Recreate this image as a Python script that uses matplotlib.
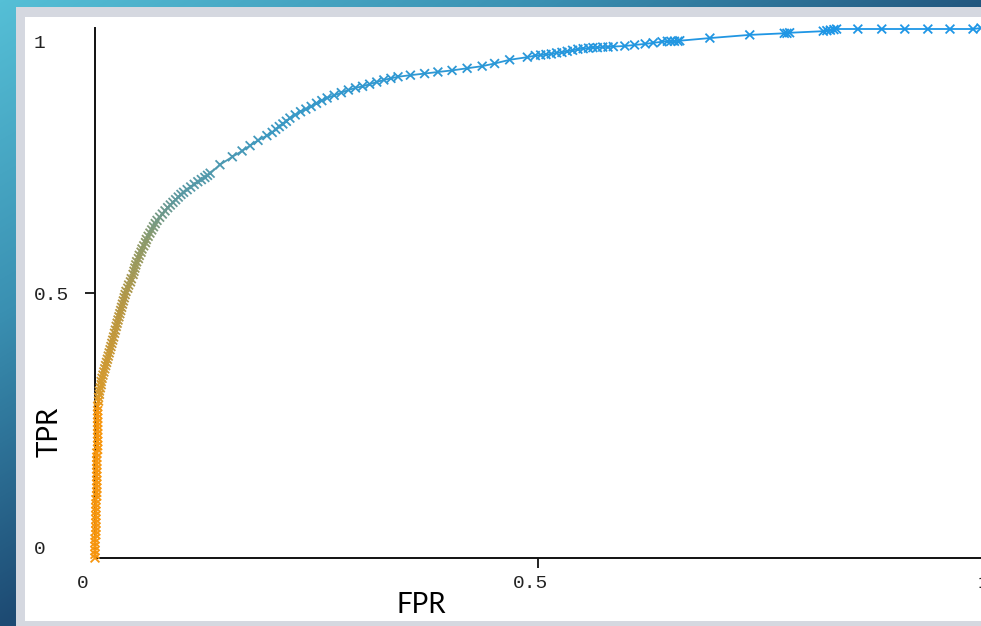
import numpy as np
import matplotlib
matplotlib.use("Agg")
import matplotlib.pyplot as plt
from matplotlib.colors import LinearSegmentedColormap
from matplotlib.collections import LineCollection
from matplotlib.patches import Rectangle

# ---------------- data ----------------
fpr = [
    # near-vertical start
    0.000, 0.000, 0.000, 0.000, 0.000, 0.000, 0.001, 0.001, 0.001, 0.001,
    0.001, 0.001, 0.001, 0.001, 0.001, 0.001, 0.002, 0.002, 0.002, 0.002,
    0.002, 0.002, 0.002, 0.002, 0.002, 0.002, 0.002, 0.002, 0.003, 0.003,
    0.003, 0.003, 0.003, 0.003, 0.003, 0.003, 0.003, 0.003, 0.003, 0.003,
    # steep rise
    0.004, 0.004, 0.005, 0.005, 0.006, 0.007, 0.007, 0.008, 0.009, 0.010,
    0.011, 0.012, 0.013, 0.014, 0.015, 0.016, 0.017, 0.018, 0.019, 0.020,
    0.021, 0.022, 0.023, 0.024, 0.025, 0.026, 0.027, 0.028, 0.029, 0.030,
    0.031, 0.032, 0.033, 0.034, 0.035, 0.037, 0.038, 0.040, 0.041,
    0.043, 0.044, 0.045, 0.046, 0.047, 0.049, 0.050, 0.052, 0.053, 0.055,
    0.057, 0.058, 0.060, 0.062, 0.064, 0.066, 0.068, 0.070, 0.073, 0.076,
    0.079, 0.082, 0.085, 0.088, 0.091, 0.094, 0.097, 0.100, 0.104, 0.108,
    0.112, 0.116, 0.120, 0.124, 0.127, 0.130,
    # knee
    0.141, 0.155, 0.166, 0.175, 0.184, 0.194,
    0.200, 0.204, 0.208, 0.212, 0.216, 0.220, 0.226, 0.232, 0.238, 0.244,
    0.250, 0.256, 0.262, 0.270, 0.278, 0.286, 0.294, 0.302, 0.310, 0.318,
    0.326, 0.334, 0.342,
    0.356, 0.372, 0.387, 0.403, 0.420, 0.437, 0.451, 0.468, 0.488,
    0.497, 0.503, 0.509, 0.515, 0.521, 0.527, 0.533, 0.539, 0.545, 0.551,
    0.557, 0.562, 0.567, 0.573, 0.579, 0.585,
    0.598, 0.609, 0.621, 0.630, 0.640,
    0.646, 0.650, 0.654, 0.658, 0.660,
    0.694, 0.739, 0.778, 0.781, 0.784,
    0.822, 0.826, 0.830, 0.834, 0.837,
    0.861, 0.888, 0.914, 0.940, 0.965, 0.991, 1.000,
]
tpr = [
    0.000, 0.007, 0.014, 0.022, 0.029, 0.036, 0.044, 0.051, 0.058, 0.066,
    0.073, 0.080, 0.088, 0.095, 0.102, 0.110, 0.117, 0.124, 0.132, 0.139,
    0.146, 0.154, 0.161, 0.168, 0.176, 0.183, 0.190, 0.198, 0.205, 0.212,
    0.220, 0.227, 0.234, 0.242, 0.249, 0.256, 0.264, 0.271, 0.278, 0.286,
    0.296, 0.303, 0.309, 0.315, 0.321, 0.327, 0.333, 0.339, 0.345, 0.351,
    0.357, 0.363, 0.369, 0.375, 0.381, 0.387, 0.393, 0.399, 0.405, 0.411,
    0.417, 0.424, 0.430, 0.437, 0.443, 0.449, 0.455, 0.461, 0.467, 0.473,
    0.479, 0.485, 0.491, 0.497, 0.503, 0.509, 0.515, 0.521, 0.527,
    0.535, 0.541, 0.547, 0.553, 0.559, 0.565, 0.571, 0.577, 0.583, 0.589,
    0.595, 0.601, 0.607, 0.613, 0.619, 0.625, 0.631, 0.637, 0.643, 0.649,
    0.655, 0.661, 0.666, 0.671, 0.676, 0.681, 0.686, 0.690, 0.695, 0.700,
    0.705, 0.710, 0.714, 0.718, 0.722, 0.726,
    0.742, 0.757, 0.768, 0.778, 0.788, 0.797,
    0.803, 0.809, 0.814, 0.819, 0.824, 0.830, 0.836, 0.842, 0.847, 0.852,
    0.858, 0.863, 0.868, 0.873, 0.878, 0.883, 0.887, 0.890, 0.894, 0.898,
    0.902, 0.905, 0.908,
    0.911, 0.914, 0.917, 0.920, 0.924, 0.928, 0.933, 0.940, 0.945,
    0.948, 0.949, 0.950, 0.951, 0.953, 0.954, 0.956, 0.958, 0.960, 0.961,
    0.962, 0.963, 0.963, 0.964, 0.964, 0.965,
    0.966, 0.968, 0.970, 0.972, 0.974,
    0.975, 0.975, 0.975, 0.975, 0.976,
    0.981, 0.987, 0.990, 0.990, 0.991,
    0.994, 0.995, 0.996, 0.997, 0.998,
    0.998, 0.998, 0.998, 0.998, 0.998, 0.998, 1.000,
]
x_ticks = [0, 0.5, 1]
x_tick_labels = ["0", "0.5", "1"]
y_ticks = [0, 0.5, 1]
y_tick_labels = ["0", "0.5", "1"]
x_label = "FPR"
y_label = "TPR"

# ---------------- styling ----------------
W, H = 981, 626
fig = plt.figure(figsize=(W / 100, H / 100), dpi=100)

# slide background gradient + frame
bg = fig.add_axes([0, 0, 1, 1])
bg.set_axis_off()
yy, xx = np.mgrid[0:H, 0:W]
t = np.clip(0.9 * xx / W + 1.0 * yy / H, 0, 1)
bg_cmap = LinearSegmentedColormap.from_list(
    "bg", ["#55bfd6", "#3a90b2", "#1d4a73"])
bg.imshow(t, cmap=bg_cmap, aspect="auto", extent=(0, W, H, 0))
bg.add_patch(Rectangle((16, 7), W - 16, H - 7, color="#d5d8e0", lw=0))
bg.add_patch(Rectangle((25, 17), W - 25, 621 - 17, color="white", lw=0))
bg.set_xlim(0, W)
bg.set_ylim(H, 0)

ax = fig.add_axes([95 / W, 68 / H, 886 / W, 530 / H])
ax.patch.set_visible(False)
ax.set_xlim(0, 1)
ax.set_ylim(0, 1)
for s in ["top", "right"]:
    ax.spines[s].set_visible(False)
for s in ["left", "bottom"]:
    ax.spines[s].set_color("#111111")
    ax.spines[s].set_linewidth(1.4)
    ax.spines[s].set_zorder(1)

ax.set_xticks([v for v in x_ticks if 0 < v < 1])
ax.set_yticks([v for v in y_ticks if 0 < v < 1])
ax.set_xticklabels([])
ax.set_yticklabels([])
ax.tick_params(direction="out", length=7, width=1.3, color="#111111")

tick_font = dict(family="Liberation Mono", fontsize=14, color="#222222")
x_offsets = [(-12, -25), (-8, -25), (2, -25)]
for v, lbl, off in zip(x_ticks, x_tick_labels, x_offsets):
    ax.annotate(lbl, xy=(v, 0), xycoords=("data", "axes fraction"),
                xytext=off, textcoords="offset pixels",
                ha="center", va="center", annotation_clip=False, **tick_font)
y_offsets = [(-61, 8), (-61, -3), (-61, -15)]
for v, lbl, off in zip(y_ticks, y_tick_labels, y_offsets):
    ax.annotate(lbl, xy=(0, v), xycoords=("axes fraction", "data"),
                xytext=off, textcoords="offset pixels",
                ha="left", va="center", annotation_clip=False, **tick_font)

fig.text(50 / W, 1 - 432 / H, y_label, rotation=90, ha="center", va="center",
         family="Lato", fontsize=20, color="black")
fig.text(421 / W, 1 - 605 / H, x_label, ha="center", va="center",
         family="Lato", fontsize=20, color="black")

# curve coloured along its length
curve_cmap = LinearSegmentedColormap.from_list("curve", [
    (0.00, "#f7960e"), (0.28, "#f7960e"), (0.31, "#d89a2c"),
    (0.48, "#b69744"), (0.60, "#8c9a6a"), (0.69, "#5a99a4"),
    (0.80, "#3f99c0"), (0.92, "#2e98d4"), (1.00, "#1e96e6")])
fpr_a = np.asarray(fpr)
tpr_a = np.asarray(tpr)
cols = curve_cmap(tpr_a)
pts = np.column_stack([fpr_a, tpr_a]).reshape(-1, 1, 2)
segs = np.concatenate([pts[:-1], pts[1:]], axis=1)
seg_cols = curve_cmap((tpr_a[:-1] + tpr_a[1:]) / 2)
lc = LineCollection(segs, colors=seg_cols, linewidths=1.3, zorder=3,
                    clip_on=False)
ax.add_collection(lc)
ax.scatter(fpr_a, tpr_a, marker="x", s=40, c=cols, linewidths=1.3,
           zorder=4, clip_on=False)

fig.savefig("out.png", dpi=100)
